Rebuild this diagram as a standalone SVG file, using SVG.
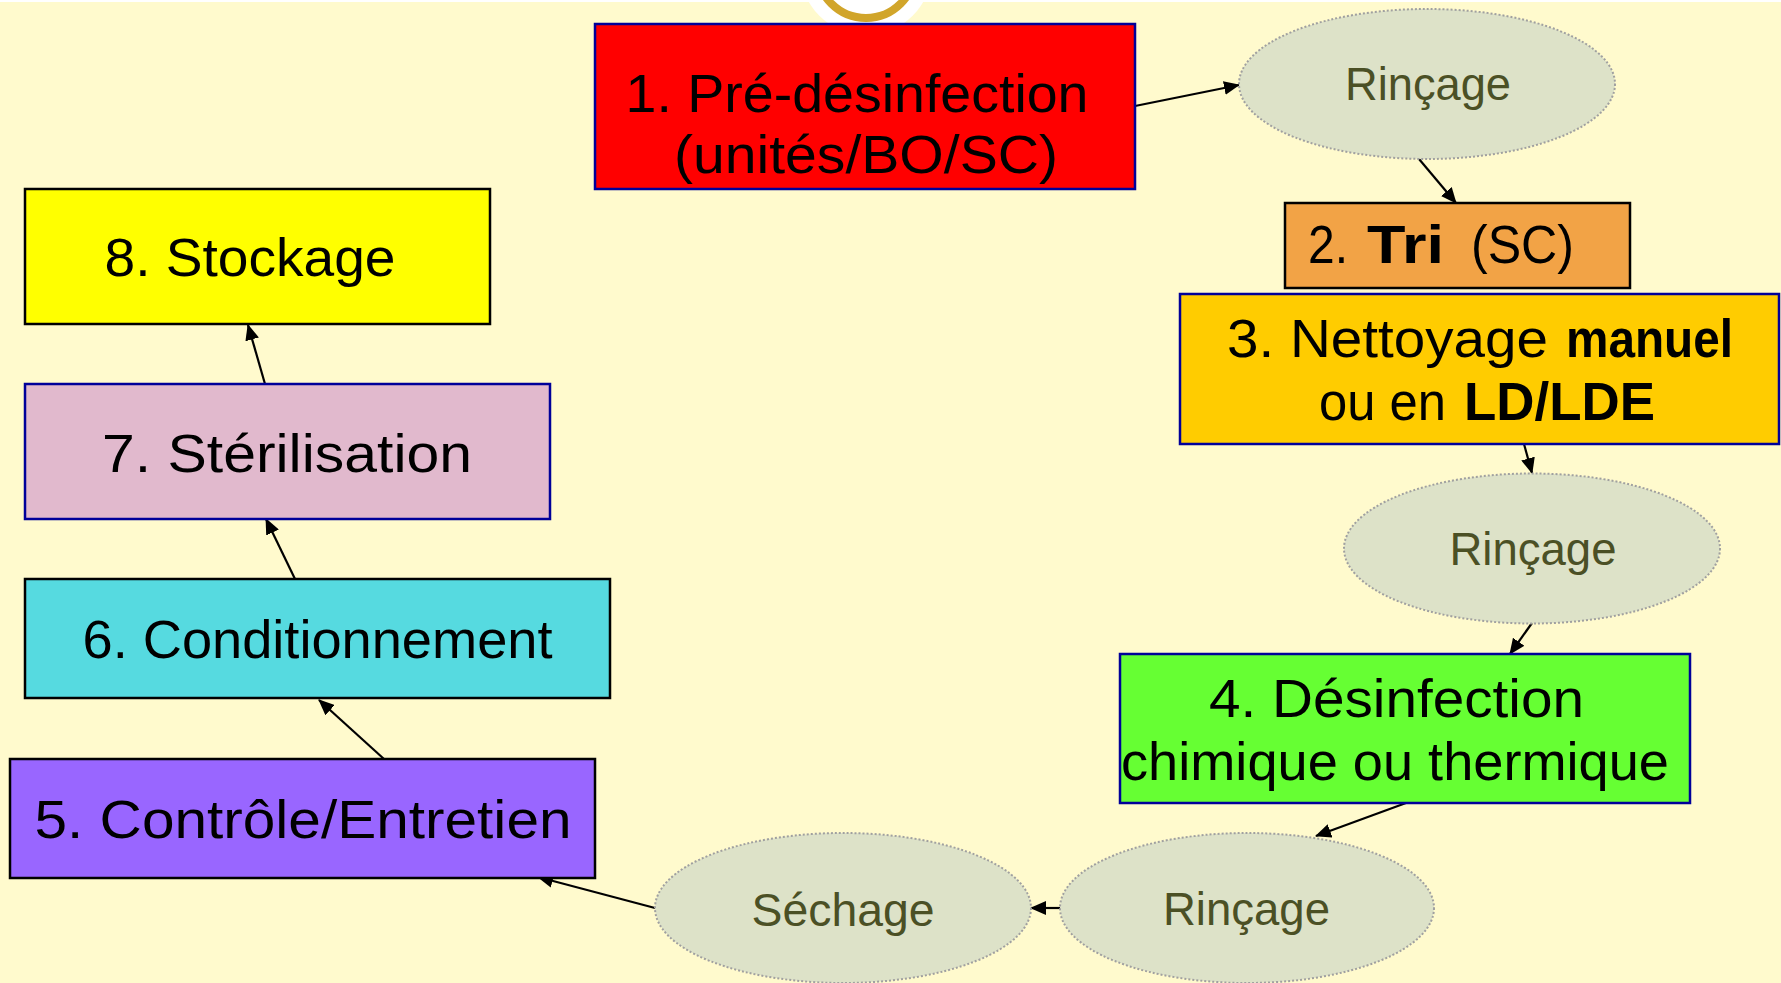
<svg xmlns="http://www.w3.org/2000/svg" width="1781" height="983" viewBox="0 0 1781 983">
  <style>
    .box { stroke-width: 2.5; }
    .navy { stroke: #000099; }
    .blk { stroke: #000000; }
    .t { font-family: "Liberation Sans", Arial, sans-serif; font-size: 54px; fill: #000000; }
    .b { font-weight: bold; }
    .ell { fill: #DDE2C8; stroke: #A0A0A0; stroke-width: 2; stroke-dasharray: 2 2; }
    .et { font-family: "Liberation Sans", Arial, sans-serif; font-size: 47px; fill: #4B5025; text-anchor: middle; }
    .conn line { stroke: #000000; stroke-width: 2.2; marker-end: url(#arr); }
  </style>
  <defs>
    <marker id="arr" viewBox="0 0 16 14" markerWidth="16" markerHeight="14" refX="15" refY="7" orient="auto" markerUnits="userSpaceOnUse">
      <path d="M0,0 L16,7 L0,14 z" fill="#000000"/>
    </marker>
  </defs>
  <rect x="0" y="0" width="1781" height="983" fill="#FFFACD"/>
  <rect x="0" y="0" width="1781" height="2" fill="#FFFFFF"/>
  <circle cx="866" cy="-31" r="66" fill="#FFFFFF"/>
  <circle cx="866" cy="-31" r="49" fill="none" stroke="#D1A52A" stroke-width="8"/>

  <g id="connectors" class="conn">
    <line x1="1135" y1="106" x2="1239" y2="85"/>
    <line x1="1419" y1="159" x2="1456" y2="203"/>
    <line x1="1524" y1="444" x2="1532" y2="473"/>
    <line x1="1532" y1="623" x2="1510" y2="654"/>
    <line x1="1406" y1="803" x2="1316" y2="836"/>
    <line x1="1060" y1="908" x2="1031" y2="908"/>
    <line x1="655" y1="908" x2="538" y2="877"/>
    <line x1="384" y1="759" x2="319" y2="700"/>
    <line x1="295" y1="579" x2="266" y2="519"/>
    <line x1="265" y1="384" x2="248" y2="325"/>
  </g>

  <g id="n1">
    <rect class="box navy" x="595" y="24" width="540" height="165" fill="#FF0000"/>
    <text class="t" x="857" y="112" text-anchor="middle" textLength="463" lengthAdjust="spacingAndGlyphs">1. Pré-désinfection</text>
    <text class="t" x="866" y="173" text-anchor="middle" textLength="384" lengthAdjust="spacingAndGlyphs">(unités/BO/SC)</text>
  </g>

  <g id="e1">
    <ellipse class="ell" cx="1427" cy="84" rx="188" ry="75"/>
    <text class="et" x="1428" y="100" textLength="166" lengthAdjust="spacingAndGlyphs">Rinçage</text>
  </g>

  <g id="n2">
    <rect class="box blk" x="1285" y="203" width="345" height="85" fill="#F2A346"/>
    <text class="t" x="1308" y="263" textLength="40" lengthAdjust="spacingAndGlyphs">2.</text>
    <text class="t b" x="1367" y="263" textLength="77" lengthAdjust="spacingAndGlyphs">Tri</text>
    <text class="t" x="1471" y="263" textLength="103" lengthAdjust="spacingAndGlyphs">(SC)</text>
  </g>

  <g id="n3">
    <rect class="box navy" x="1180" y="294" width="599" height="150" fill="#FFCC00"/>
    <text class="t" x="1227" y="357" textLength="321" lengthAdjust="spacingAndGlyphs">3. Nettoyage</text>
    <text class="t b" x="1566" y="357" textLength="167" lengthAdjust="spacingAndGlyphs">manuel</text>
    <text class="t" x="1319" y="420" textLength="127" lengthAdjust="spacingAndGlyphs">ou en</text>
    <text class="t b" x="1464" y="420" textLength="191" lengthAdjust="spacingAndGlyphs">LD/LDE</text>
  </g>

  <g id="e2">
    <ellipse class="ell" cx="1532" cy="548.5" rx="188" ry="75"/>
    <text class="et" x="1533" y="565" textLength="167" lengthAdjust="spacingAndGlyphs">Rinçage</text>
  </g>

  <g id="n4">
    <rect class="box navy" x="1120" y="654" width="570" height="149" fill="#66FF33"/>
    <text class="t" x="1396.5" y="717" text-anchor="middle" textLength="375" lengthAdjust="spacingAndGlyphs">4. Désinfection</text>
    <text class="t" x="1395" y="780" text-anchor="middle" textLength="548" lengthAdjust="spacingAndGlyphs">chimique ou thermique</text>
  </g>

  <g id="e3">
    <ellipse class="ell" cx="1247" cy="908" rx="187" ry="75"/>
    <text class="et" x="1246.5" y="925" textLength="167" lengthAdjust="spacingAndGlyphs">Rinçage</text>
  </g>

  <g id="e4">
    <ellipse class="ell" cx="843" cy="908" rx="188" ry="75"/>
    <text class="et" x="843" y="926" textLength="183" lengthAdjust="spacingAndGlyphs">Séchage</text>
  </g>

  <g id="n5">
    <rect class="box blk" x="10" y="759" width="585" height="119" fill="#9966FF"/>
    <text class="t" x="303" y="838" text-anchor="middle" textLength="537" lengthAdjust="spacingAndGlyphs">5. Contrôle/Entretien</text>
  </g>

  <g id="n6">
    <rect class="box blk" x="25" y="579" width="585" height="119" fill="#56DAE0"/>
    <text class="t" x="317.5" y="658" text-anchor="middle" textLength="470" lengthAdjust="spacingAndGlyphs">6. Conditionnement</text>
  </g>

  <g id="n7">
    <rect class="box navy" x="25" y="384" width="525" height="135" fill="#E1B9CD"/>
    <text class="t" x="287" y="472" text-anchor="middle" textLength="370" lengthAdjust="spacingAndGlyphs">7. Stérilisation</text>
  </g>

  <g id="n8">
    <rect class="box blk" x="25" y="189" width="465" height="135" fill="#FFFF00"/>
    <text class="t" x="250" y="276" text-anchor="middle" textLength="291" lengthAdjust="spacingAndGlyphs">8. Stockage</text>
  </g>
</svg>
